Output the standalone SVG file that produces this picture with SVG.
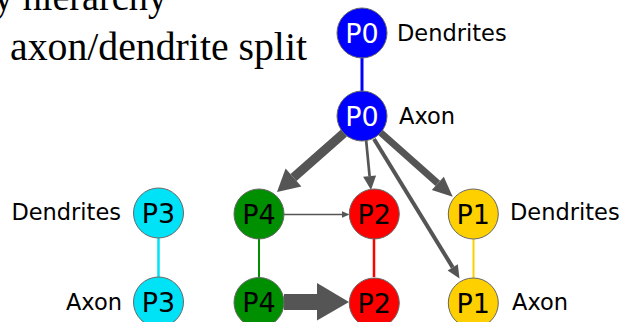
<svg xmlns="http://www.w3.org/2000/svg" width="623" height="322" viewBox="0 0 623 322">
<style>
.title{font-family:"Liberation Serif",serif;font-size:39px;fill:#000}
.nd{stroke:#666;stroke-width:1}
.nl{font-family:"DejaVu Sans",sans-serif;font-size:27px;text-anchor:middle;fill:#000}
.side{font-family:"DejaVu Sans",sans-serif;font-size:22.5px;fill:#000}
.e{stroke:#555;fill:none}
.ah{fill:#555;stroke:none}
</style>
<rect width="623" height="322" fill="#fff"/>
<text class="title" x="-6" y="10" textLength="173" lengthAdjust="spacingAndGlyphs">y hierarchy</text>
<text class="title" x="10" y="60" textLength="297" lengthAdjust="spacingAndGlyphs">axon/dendrite split</text>
<g id="connectors">
  <line x1="362" y1="58" x2="362" y2="91" stroke="#0000ff" stroke-width="3"/>
  <line x1="158.5" y1="238" x2="158.5" y2="277" stroke="#00e3f7" stroke-width="2.5"/>
  <line x1="259" y1="238" x2="259" y2="277" stroke="#008f00" stroke-width="2"/>
  <line x1="374" y1="238" x2="374" y2="277" stroke="#ff0000" stroke-width="2.5"/>
  <line x1="473.5" y1="238" x2="473.5" y2="278" stroke="#ffd000" stroke-width="2"/>
  <line class="e" x1="344" y1="133" x2="293.5" y2="177.5" stroke-width="9"/>
  <polygon class="ah" points="277,192 285.6,168.5 301.4,186.5"/>
  <line class="e" x1="366" y1="139" x2="369.6" y2="176.1" stroke-width="2.7"/>
  <polygon class="ah" points="371,190 363.1,176.7 376.1,175.5"/>
  <line class="e" x1="374" y1="139" x2="452.7" y2="267.4" stroke-width="4"/>
  <polygon class="ah" points="459.5,278.5 447.6,270.5 457.8,264.3"/>
  <line class="e" x1="380" y1="132" x2="437.8" y2="183.4" stroke-width="7"/>
  <polygon class="ah" points="452.7,196.7 431.8,190.1 443.8,176.7"/>
  <line class="e" x1="284" y1="214.5" x2="343" y2="214.5" stroke-width="1.4"/>
  <polygon class="ah" points="349.5,214.5 342,211.2 342,217.8"/>
  <line class="e" x1="284" y1="302" x2="318" y2="302" stroke-width="16"/>
  <polygon class="ah" points="317,283 349,302 317,320.5"/>
</g>
<g id="p0d"><circle class="nd" cx="362" cy="33" r="25" fill="#0000ff"/><text class="nl" x="362" y="42.5" fill="#fff" style="fill:#fff">P0</text><text class="side" x="397" y="40.5">Dendrites</text></g>
<g id="p0a"><circle class="nd" cx="362" cy="116" r="25" fill="#0000ff"/><text class="nl" x="362" y="125.5" style="fill:#fff">P0</text><text class="side" x="399" y="123.5">Axon</text></g>
<g id="p3d"><circle class="nd" cx="158.5" cy="213" r="25" fill="#00e3f7"/><text class="nl" x="158.5" y="222.5">P3</text><text class="side" x="121" y="219.5" text-anchor="end">Dendrites</text></g>
<g id="p3a"><circle class="nd" cx="158.5" cy="302" r="25" fill="#00e3f7"/><text class="nl" x="158.5" y="311.5">P3</text><text class="side" x="122" y="309.5" text-anchor="end">Axon</text></g>
<g id="p4d"><circle class="nd" cx="259" cy="214" r="25" fill="#008f00"/><text class="nl" x="259" y="223.5">P4</text></g>
<g id="p4a"><circle class="nd" cx="259" cy="302.5" r="25" fill="#008f00"/><text class="nl" x="259" y="312">P4</text></g>
<g id="p2d"><circle class="nd" cx="374.3" cy="214" r="25" fill="#ff0000"/><text class="nl" x="374.3" y="223.5">P2</text></g>
<g id="p2a"><circle class="nd" cx="374.3" cy="303" r="25" fill="#ff0000"/><text class="nl" x="374.3" y="312.5">P2</text></g>
<g id="p1d"><circle class="nd" cx="473.3" cy="214" r="25" fill="#ffd000"/><text class="nl" x="473.3" y="223.5">P1</text><text class="side" x="510" y="219.5">Dendrites</text></g>
<g id="p1a"><circle class="nd" cx="473.3" cy="303" r="25" fill="#ffd000"/><text class="nl" x="473.3" y="312.5">P1</text><text class="side" x="512" y="309.5">Axon</text></g>
</svg>
